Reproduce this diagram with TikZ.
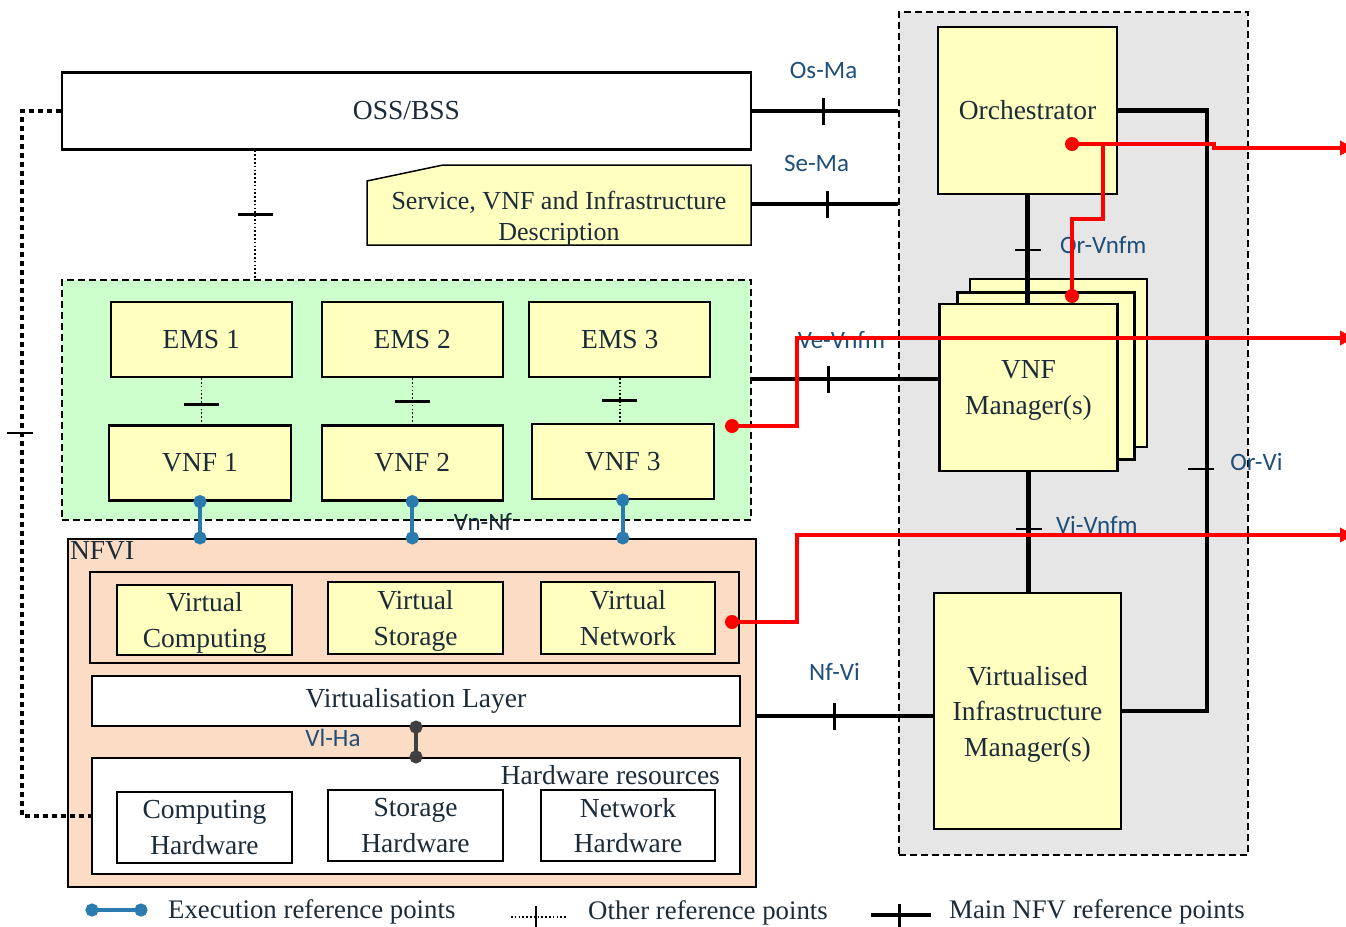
\documentclass[tikz,border=0pt]{standalone}
\usepackage{fontspec}
\setmainfont{Liberation Serif}
\newfontfamily\lblfont{Carlito}
\usetikzlibrary{arrows.meta}
\definecolor{boxyellow}{HTML}{FFFFC0}
\definecolor{vnfgreen}{HTML}{CCFFCC}
\definecolor{nfvipeach}{HTML}{FBDCC4}
\definecolor{manogray}{HTML}{E6E6E6}
\definecolor{execblue}{HTML}{2B7BAE}
\definecolor{boxtext}{HTML}{1B2B39}
\definecolor{reftext}{HTML}{1F4E79}
\definecolor{vlgray}{HTML}{404040}
\newcommand\nodp[1]{\raisebox{0pt}[\height][0pt]{#1}}

\tikzset{
  wh/.style 2 args={minimum width=#1pt, minimum height=#2pt},
  box/.style={draw, line width=2.2pt, fill=boxyellow, text=boxtext, align=center, inner sep=0pt,
    font=\fontsize{27.5}{35.5}\selectfont},
  whitebox/.style={box, fill=white},
  area/.style={draw, line width=2pt, dash pattern=on 7pt off 4pt},
  mainref/.style={line width=4.5pt},
  otherref/.style={line width=1.6pt, dash pattern=on 1.6pt off 2.2pt},
  mgmtref/.style={line width=4.5pt, dash pattern=on 4.5pt off 4.5pt},
  execref/.style={draw=execblue, line width=4pt, {Circle[length=13pt]}-{Circle[length=13pt]},
    shorten <=-6.5pt, shorten >=-6.5pt},
  vtick/.style={fill=black, inner sep=0pt, minimum width=2.8pt, minimum height=27pt},
  htick/.style={fill=black, inner sep=0pt, minimum width=26pt, minimum height=2.8pt},
  reflabel/.style={text=reftext, inner sep=0pt, font=\lblfont\fontsize{25}{30}\selectfont},
  redline/.style={draw=red, line width=4pt, -{Triangle[length=14pt, width=14pt]}},
  reddot/.style={circle, fill=red, inner sep=0pt, minimum size=14pt},
  legendtext/.style={anchor=west, inner sep=0pt, text=boxtext, font=\fontsize{26.8}{30}\selectfont}
}

\begin{document}
\begin{tikzpicture}[x=1pt, y=-1pt]
  \useasboundingbox (0,0) rectangle (1346,926);

  % areas
  \node[area, fill=manogray, wh={349}{843}] (mano) at (1073.5,433.5) {};
  \node[area, fill=vnfgreen, wh={689}{240}] (vnfbox) at (406.5,400) {};
  \node[draw, line width=2.2pt, fill=nfvipeach, wh={688}{348}] (nfvi) at (412,713) {};
  \node[anchor=north west, inner sep=3pt, text=boxtext, font=\fontsize{27.5}{34}\selectfont] (nfvilabel) at (nfvi.north west) {NFVI};

  \node[whitebox, wh={689}{77}] (oss) at (406.5,111) {OSS/BSS};
  \draw[line width=1.5pt, fill=boxyellow] (367,181) -- (443,165) -- (751,165) -- (751,245) -- (367,245) -- cycle;
  \node[text=boxtext, align=center, inner sep=0pt, wh={384}{58}, font=\fontsize{26}{31}\selectfont] (desc) at (559,216)
    {Service, VNF and Infrastructure\\\nodp{Description}};

  \node[box, wh={181}{75}] (ems1) at (201.3,339.5) {EMS 1};
  \node[box, wh={181}{75}] (ems2) at (412.3,339.5) {EMS 2};
  \node[box, wh={181}{75}] (ems3) at (619.8,339.5) {EMS 3};
  \node[box, wh={182}{75}] (vnf1) at (200,463) {VNF 1};
  \node[box, wh={181}{75}] (vnf2) at (412.3,463) {VNF 2};
  \node[box, wh={182}{75}] (vnf3) at (622.8,461.5) {VNF 3};

  \node[box, fill=nfvipeach, wh={649}{91}] (vcont) at (414.5,617.5) {};
  \node[box, wh={175}{70}] (vcomp) at (204.7,620) {Virtual\\\nodp{Computing}};
  \node[box, wh={175}{72}] (vstor) at (415.5,618) {Virtual\\\nodp{Storage}};
  \node[box, wh={174}{72}] (vnet) at (628,618) {Virtual\\Network};
  \node[whitebox, wh={648}{50}] (vlayer) at (416,701) {Virtualisation Layer};
  \node[whitebox, wh={648}{116}] (hw) at (416,816) {};
  \node[anchor=north east, inner sep=0pt, text=boxtext, font=\fontsize{27.5}{34}\selectfont] (hwlabel)
    at ([xshift=-21pt, yshift=-8pt]hw.north east) {Hardware resources};
  \node[whitebox, wh={175}{71}] (chw) at (204.5,827.5) {Computing\\Hardware};
  \node[whitebox, wh={175}{71}] (shw) at (415.5,825.5) {Storage\\Hardware};
  \node[whitebox, wh={174}{71}] (nhw) at (628,825.5) {Network\\Hardware};

  \node[box, wh={179}{167}] (orch) at (1027.5,110.5) {Orchestrator};
  \node[box, wh={177}{168}] (vnfm3) at (1058.5,363) {};
  \node[box, wh={177}{167}] (vnfm2) at (1046,376) {};
  \node[box, wh={178}{167}] (vnfm) at (1028.5,387.5) {VNF\\\nodp{Manager(s)}};
  \node[box, wh={187}{236}] (vim) at (1027.5,711) {Virtualised\\Infrastructure\\\nodp{Manager(s)}};

  % main reference points
  \draw[mainref] (oss.east) -- (oss.east -| mano.west)
    node[vtick, pos=.49, label={[reflabel, label distance=14pt]above:Os-Ma}] (osma) {};
  \coordinate (sema-a) at ([yshift=12pt]desc.east);
  \draw[mainref] (sema-a) -- (sema-a -| mano.west)
    node[vtick, pos=.52, label={[reflabel, label distance=14pt, xshift=-11pt]above:Se-Ma}] (sema) {};
  \coordinate (vevnfm-a) at ([yshift=8.5pt]vnfm.west);
  \draw[mainref] (vevnfm-a -| vnfbox.east) -- (vevnfm-a)
    node[vtick, pos=.41, label={[reflabel, label distance=12pt, xshift=13pt]above:Ve-Vnfm}] (vevnfm) {};
  \coordinate (nfvi-a) at ([yshift=-5pt]vim.west);
  \draw[mainref] (nfvi.east |- nfvi-a) -- (nfvi-a)
    node[vtick, pos=.44, label={[reflabel, label distance=18pt]above:Nf-Vi}] (nfvi-ref) {};
  \draw[mainref] (orch.south) -- (orch.south |- vnfm.north)
    node[htick, pos=.51, label={[reflabel, label distance=15pt, yshift=5pt]right:Or-Vnfm}] (orvnfm) {};
  \draw[mainref] (vnfm.south) -- (vnfm.south |- vim.north)
    node[htick, pos=.475, label={[reflabel, label distance=10pt, yshift=4pt]right:Vi-Vnfm}] (vivnfm) {};
  \coordinate (orvi-x) at (1207,0);
  \draw[mainref] (orch.east) -- (orch.east -| orvi-x) -- (orvi-x |- vim.east) -- (vim.east);
  \node[htick, label={[reflabel, label distance=16pt, yshift=7pt]right:Or-Vi}] (orvi) at (1201,469) {};

  % other reference points
  \coordinate (oss-tap) at ([xshift=-151.5pt]oss.south);
  \draw[otherref] (oss-tap) -- (oss-tap |- vnfbox.north)
    node[htick, minimum width=35pt, pos=.5] (ossems) {};
  \foreach \i/\p in {1/.57, 2/.51, 3/.5}
    \draw[otherref] (ems\i.south) -- (ems\i.south |- vnf\i.north)
      node[htick, minimum width=35pt, pos=\p] (emsvnf\i) {};
  \coordinate (mgmt-x) at (22,0);
  \draw[mgmtref] (oss.west) -- (oss.west -| mgmt-x) -- (mgmt-x |- hw.west) -- (hw.west);
  \node[htick, minimum width=26pt] (ossnfvi) at (20,433) {};

  % execution reference points
  \foreach \i in {1,2,3}
    \draw[execref] (vnf\i.south) -- (vnf\i.south |- nfvi.north);
  \node[reflabel, text=boxtext] (vnnf) at (483,522) {Vn-Nf};
  \draw[execref, draw=vlgray] (vlayer.south) -- (vlayer.south |- hw.north);
  \node[reflabel] (vlha) at (333,738) {Vl-Ha};

  % red marks
  \node[reddot] (orchdot) at (1072,144) {};
  \node[reddot] (vnfmdot) at (1072,296) {};
  \node[reddot] (vnfdot) at (732,426) {};
  \node[reddot] (virtdot) at (732,622) {};
  \coordinate (out1) at (1354,148);
  \coordinate (out2) at (1354,338);
  \coordinate (out3) at (1354,535);
  \draw[redline] (orchdot.center) -- ++(142,0) -- ++(0,4) -- (out1);
  \draw[draw=red, line width=4pt] (orchdot.center) ++(31,0) -- ++(0,75) -| (vnfmdot.center);
  \draw[redline] (vnfdot.center) -- ++(65,0) |- (out2);
  \draw[redline] (virtdot.center) -- ++(65,0) |- (out3);

  % legend
  \coordinate (lgexec-a) at (92,910);
  \coordinate (lgexec-b) at (141,910);
  \draw[execref] (lgexec-a) -- (lgexec-b);
  \node[legendtext] (lgexec) at (168,912) {Execution reference points};
  \coordinate (lgother-a) at (511,917);
  \coordinate (lgother-b) at (567,917);
  \draw[otherref] (lgother-a) -- (lgother-b)
    node[vtick, pos=.45, minimum width=2pt, minimum height=22pt] (lgothertick) {};
  \node[legendtext] (lgother) at (588,913) {Other reference points};
  \coordinate (lgmain-a) at (871,915);
  \coordinate (lgmain-b) at (931,915);
  \draw[mainref] (lgmain-a) -- (lgmain-b)
    node[vtick, pos=.48, minimum height=23pt] (lgmaintick) {};
  \node[legendtext] (lgmain) at (949,912) {Main NFV reference points};
\end{tikzpicture}
\end{document}
